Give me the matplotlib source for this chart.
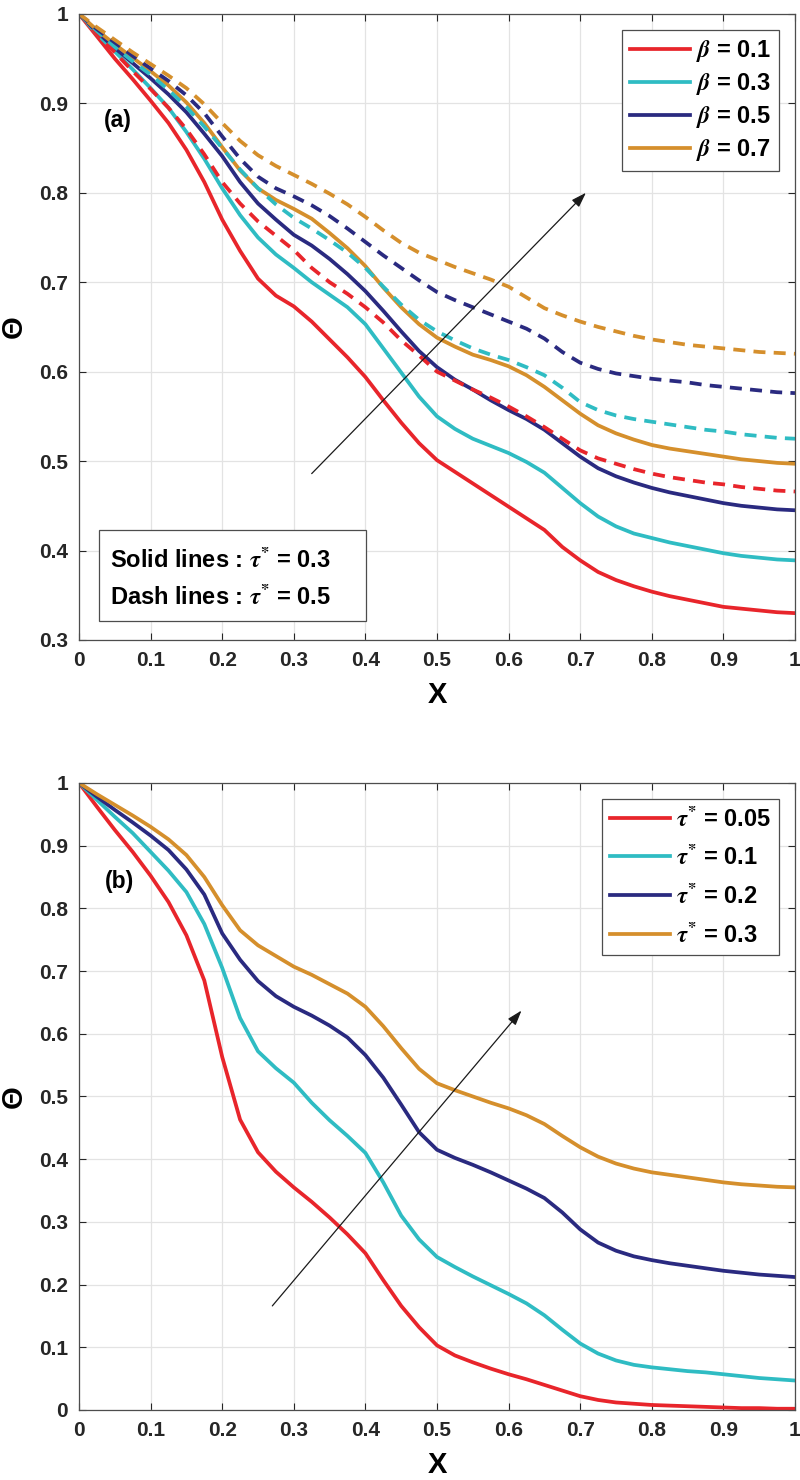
import numpy as np
import matplotlib.pyplot as plt
from matplotlib.patches import Rectangle

plt.rcParams['font.family'] = ['Liberation Sans', 'DejaVu Sans']
plt.rcParams['font.weight'] = 'bold'
plt.rcParams['mathtext.fontset'] = 'stix'

# ---- data ----
x = np.linspace(0, 1, 41)  # sampling positions 0, 0.025, ..., 1

# panel (a): solid lines tau* = 0.3
a_b01_solid = [1.0, 0.975, 0.950, 0.927, 0.903, 0.878, 0.848, 0.812, 0.770, 0.735, 0.704, 0.685,
               0.673, 0.656, 0.636, 0.616, 0.594, 0.568, 0.543, 0.520, 0.501,
               0.488, 0.475, 0.462, 0.449, 0.436, 0.423, 0.404, 0.389, 0.376, 0.367, 0.360,
               0.354, 0.349, 0.345, 0.341, 0.337, 0.335, 0.333, 0.331, 0.330]
a_b03_solid = [1.0, 0.978, 0.958, 0.938, 0.917, 0.895, 0.868, 0.838, 0.805, 0.775, 0.750, 0.731,
               0.716, 0.700, 0.686, 0.672, 0.653, 0.626, 0.599, 0.572, 0.550,
               0.536, 0.525, 0.517, 0.509, 0.499, 0.487, 0.470, 0.453, 0.438, 0.427, 0.419,
               0.414, 0.409, 0.405, 0.401, 0.397, 0.394, 0.392, 0.390, 0.389]
a_b05_solid = [1.0, 0.980, 0.962, 0.945, 0.928, 0.910, 0.890, 0.866, 0.841, 0.812, 0.788, 0.770,
               0.753, 0.741, 0.726, 0.709, 0.690, 0.668, 0.645, 0.623, 0.605,
               0.591, 0.580, 0.568, 0.557, 0.547, 0.535, 0.520, 0.505, 0.492, 0.483, 0.476,
               0.470, 0.465, 0.461, 0.457, 0.453, 0.450, 0.448, 0.446, 0.445]
a_b07_solid = [1.0, 0.982, 0.966, 0.951, 0.936, 0.920, 0.901, 0.878, 0.851, 0.825, 0.805, 0.792,
               0.782, 0.771, 0.755, 0.738, 0.718, 0.694, 0.672, 0.653, 0.638,
               0.628, 0.619, 0.613, 0.606, 0.596, 0.583, 0.568, 0.553, 0.540, 0.531, 0.524,
               0.518, 0.514, 0.511, 0.508, 0.505, 0.502, 0.500, 0.498, 0.497]
# panel (a): dashed lines tau* = 0.5
a_b01_dash = [1.0, 0.978, 0.957, 0.936, 0.916, 0.895, 0.871, 0.843, 0.812, 0.788, 0.768, 0.752,
              0.736, 0.716, 0.700, 0.687, 0.672, 0.655, 0.635, 0.618, 0.600,
              0.590, 0.580, 0.571, 0.561, 0.550, 0.538, 0.525, 0.512, 0.503, 0.497, 0.491,
              0.486, 0.482, 0.479, 0.476, 0.474, 0.471, 0.469, 0.467, 0.466]
a_b03_dash = [1.0, 0.981, 0.963, 0.947, 0.932, 0.915, 0.896, 0.874, 0.850, 0.826, 0.805, 0.787,
              0.772, 0.760, 0.747, 0.733, 0.716, 0.695, 0.675, 0.658, 0.645,
              0.635, 0.626, 0.619, 0.613, 0.605, 0.596, 0.582, 0.566, 0.557, 0.551, 0.547,
              0.544, 0.541, 0.538, 0.535, 0.533, 0.530, 0.528, 0.526, 0.525]
a_b05_dash = [1.0, 0.983, 0.968, 0.953, 0.939, 0.925, 0.909, 0.889, 0.863, 0.838, 0.818, 0.805,
              0.796, 0.786, 0.774, 0.760, 0.745, 0.730, 0.716, 0.702, 0.689,
              0.680, 0.672, 0.664, 0.656, 0.648, 0.637, 0.622, 0.610, 0.603, 0.598, 0.595,
              0.592, 0.590, 0.588, 0.585, 0.583, 0.581, 0.579, 0.577, 0.576]
a_b07_dash = [1.0, 0.985, 0.971, 0.957, 0.944, 0.931, 0.917, 0.899, 0.878, 0.858, 0.842, 0.830,
              0.820, 0.810, 0.799, 0.787, 0.773, 0.758, 0.744, 0.733, 0.725,
              0.717, 0.710, 0.703, 0.695, 0.683, 0.671, 0.663, 0.656, 0.650, 0.645, 0.640,
              0.636, 0.633, 0.630, 0.628, 0.626, 0.624, 0.622, 0.621, 0.620]

# panel (b): tau* varies
b_t005 = [1.0, 0.962, 0.925, 0.890, 0.852, 0.810, 0.757, 0.685, 0.563, 0.463, 0.411, 0.380,
          0.355, 0.332, 0.307, 0.280, 0.250, 0.207, 0.166, 0.132, 0.103,
          0.087, 0.076, 0.066, 0.057, 0.049, 0.040, 0.031, 0.022, 0.016, 0.012, 0.010,
          0.008, 0.007, 0.006, 0.005, 0.004, 0.003, 0.003, 0.002, 0.002]
b_t01 = [1.0, 0.973, 0.946, 0.920, 0.890, 0.860, 0.826, 0.775, 0.705, 0.625, 0.572, 0.545,
         0.522, 0.490, 0.462, 0.437, 0.410, 0.363, 0.310, 0.272, 0.244,
         0.228, 0.213, 0.199, 0.185, 0.170, 0.151, 0.128, 0.106, 0.090, 0.079, 0.072,
         0.068, 0.065, 0.062, 0.060, 0.057, 0.054, 0.051, 0.049, 0.047]
b_t02 = [1.0, 0.978, 0.957, 0.937, 0.916, 0.893, 0.862, 0.822, 0.760, 0.718, 0.684, 0.660,
         0.643, 0.629, 0.613, 0.594, 0.566, 0.530, 0.487, 0.443, 0.415,
         0.402, 0.391, 0.379, 0.366, 0.353, 0.338, 0.315, 0.288, 0.267, 0.254, 0.245,
         0.239, 0.234, 0.230, 0.226, 0.222, 0.219, 0.216, 0.214, 0.212]
b_t03 = [1.0, 0.982, 0.965, 0.948, 0.930, 0.910, 0.885, 0.850, 0.805, 0.765, 0.741, 0.724,
         0.707, 0.694, 0.679, 0.664, 0.643, 0.612, 0.577, 0.544, 0.521,
         0.510, 0.500, 0.490, 0.481, 0.470, 0.456, 0.437, 0.419, 0.404, 0.393, 0.385,
         0.379, 0.375, 0.371, 0.367, 0.363, 0.360, 0.358, 0.356, 0.355]

beta_labels = [r'$\beta$ = 0.1', r'$\beta$ = 0.3', r'$\beta$ = 0.5', r'$\beta$ = 0.7']
tau_labels = [r'$\tau^{*}$ = 0.05', r'$\tau^{*}$ = 0.1', r'$\tau^{*}$ = 0.2', r'$\tau^{*}$ = 0.3']
colors = ['#e8252b', '#2fbcc3', '#2a2a80', '#d58f2c']

fig = plt.figure(figsize=(8, 14.8), dpi=100)
ax1 = fig.add_axes([0.09875, 0.5676, 0.895, 0.4230])
ax2 = fig.add_axes([0.09875, 0.0473, 0.895, 0.4237])

lw = 2.7


def style_axes(ax, ylo):
    xt = np.round(np.arange(0, 1.01, 0.1), 1)
    yt = np.round(np.arange(ylo, 1.001, 0.1), 1)
    ax.set_xlim(0, 1)
    ax.set_ylim(ylo, 1)
    ax.set_xticks(xt)
    ax.set_yticks(yt)
    ax.set_xticklabels(['%g' % v for v in xt])
    ax.set_yticklabels(['%g' % v for v in yt])
    ax.grid(True, color='#e3e3e3', lw=0.9)
    ax.set_axisbelow(True)
    ax.tick_params(direction='in', length=5, width=0.8, top=True, right=True,
                   labelsize=15, colors='#262626', pad=8)
    for lab in ax.get_xticklabels() + ax.get_yticklabels():
        lab.set_fontweight('bold')
    for sp in ax.spines.values():
        sp.set_color('#4d4d4d')
        sp.set_linewidth(0.9)
    ax.set_xlabel('X', fontsize=21, fontweight='bold', labelpad=8)
    ax.set_ylabel('Θ', fontsize=21, fontweight='bold', labelpad=8)


def style_legend(leg):
    leg.get_frame().set_linewidth(0.9)
    for t in leg.get_texts():
        t.set_fontweight('bold')


arrow = dict(arrowstyle='-|>,head_length=0.9,head_width=0.3',
             color='#1a1a1a', lw=0.9, shrinkA=0, shrinkB=0)
leg_kw = dict(loc='upper right', bbox_to_anchor=(0.978, 0.975), borderaxespad=0,
              fontsize=17, handlelength=2.55, handletextpad=0.25, borderpad=0.35,
              fancybox=False, framealpha=1, edgecolor='#4d4d4d')

# ---- panel (a) ----
solids = [a_b01_solid, a_b03_solid, a_b05_solid, a_b07_solid]
dashes = [a_b01_dash, a_b03_dash, a_b05_dash, a_b07_dash]
handles = []
for ys, c, lab in zip(solids, colors, beta_labels):
    h, = ax1.plot(x, ys, color=c, lw=lw, label=lab)
    handles.append(h)
for ys, c in zip(dashes, colors):
    ax1.plot(x, ys, color=c, lw=lw, ls=(0, (3.2, 2.2)))
style_axes(ax1, 0.3)
style_legend(ax1.legend(handles=handles, labelspacing=0.3, **leg_kw))
ax1.text(0.035, 0.881, '(a)', fontsize=16.5, fontweight='bold', va='center', ha='left')
ax1.add_patch(Rectangle((0.028, 0.3213), 0.373, 0.1017, fc='white', ec='#4d4d4d',
                        lw=0.9, zorder=4))
ax1.text(0.0433, 0.3895, 'Solid lines : ' + r'$\tau^{*}$' + ' = 0.3', fontsize=17,
         fontweight='bold', va='center', ha='left', zorder=5)
ax1.text(0.0433, 0.3481, 'Dash lines : ' + r'$\tau^{*}$' + ' = 0.5', fontsize=17,
         fontweight='bold', va='center', ha='left', zorder=5)
ax1.annotate('', xy=(0.708, 0.800), xytext=(0.325, 0.486), arrowprops=arrow)

# ---- panel (b) ----
for ys, c, lab in zip([b_t005, b_t01, b_t02, b_t03], colors, tau_labels):
    ax2.plot(x, ys, color=c, lw=lw, label=lab)
style_axes(ax2, 0.0)
style_legend(ax2.legend(labelspacing=0.62, **leg_kw))
ax2.text(0.036, 0.842, '(b)', fontsize=16.5, fontweight='bold', va='center', ha='left')
ax2.annotate('', xy=(0.618, 0.637), xytext=(0.270, 0.166), arrowprops=arrow)

fig.savefig('out.png', dpi=100)
